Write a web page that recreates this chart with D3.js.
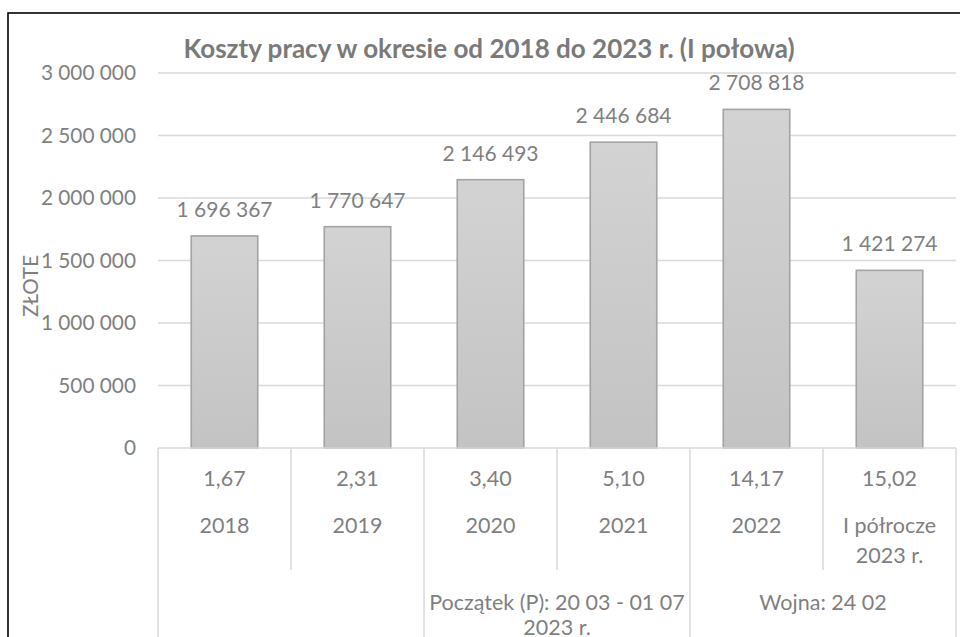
<!DOCTYPE html>
<html lang="pl">
<head>
    <meta charset="UTF-8">
    <script src="https://d3js.org/d3.v7.min.js"></script>
    <style>
        body { margin: 0; background: white; }
        text { font-family: Lato, "Open Sans", sans-serif; fill: #7f7f7f; }
        .title { font-weight: bold; fill: #7a7a7a; }
    </style>
</head>
<body>
    <div id="chart"></div>

    <script>
        // data
        const years = ["2018", "2019", "2020", "2021", "2022", "I półrocze\n2023 r."];
        const costs = [1696367, 1770647, 2146493, 2446684, 2708818, 1421274];
        const ratios = [1.67, 2.31, 3.40, 5.10, 14.17, 15.02];
        const groupLabels = ["", "Początek (P): 20 03 - 01 07\n2023 r.", "Wojna: 24 02"];
        const groupSize = 2;
        const yTicks = [0, 500000, 1000000, 1500000, 2000000, 2500000, 3000000];

        const width = 960;
        const height = 637;
        const plotLeft = 158, plotRight = 956, plotTop = 73, plotBottom = 448;

        const pl = d3.formatLocale({ decimal: ",", thousands: " ", grouping: [3], currency: ["", " zł"] });
        const fmtInt = pl.format(",d");
        const fmtDec = pl.format(".2f");

        const svg = d3.select("#chart").append("svg")
            .attr("width", width)
            .attr("height", height);

        const defs = svg.append("defs");
        const grad = defs.append("linearGradient")
            .attr("id", "barFill")
            .attr("x1", 0).attr("y1", 0).attr("x2", 0).attr("y2", 1);
        grad.append("stop").attr("offset", "0%").attr("stop-color", "#d3d3d3");
        grad.append("stop").attr("offset", "100%").attr("stop-color", "#c3c3c3");

        // outer frame (cut by the picture edge)
        svg.append("rect")
            .attr("x", 8).attr("y", 13)
            .attr("width", 1000).attr("height", 700)
            .attr("fill", "none")
            .attr("stroke", "#000")
            .attr("stroke-width", 1.6);

        const x = d3.scaleBand()
            .domain(years)
            .range([plotLeft, plotRight])
            .paddingInner(0.5)
            .paddingOuter(0.25);

        const cell = d3.scaleBand()
            .domain(years)
            .range([plotLeft, plotRight]);

        const y = d3.scaleLinear()
            .domain([0, 3000000])
            .range([plotBottom, plotTop]);

        // gridlines
        svg.append("g")
            .selectAll("line")
            .data(yTicks.filter(d => d > 0))
            .enter().append("line")
            .attr("x1", plotLeft).attr("x2", plotRight)
            .attr("y1", d => y(d)).attr("y2", d => y(d))
            .attr("stroke", "#d9d9d9")
            .attr("stroke-width", 1.5);

        // y tick labels
        svg.append("g")
            .selectAll("text")
            .data(yTicks)
            .enter().append("text")
            .attr("x", 136)
            .attr("y", d => y(d))
            .attr("dy", "0.35em")
            .attr("text-anchor", "end")
            .style("font-size", "20.8px")
            .text(d => fmtInt(d));

        // y axis title
        svg.append("text")
            .attr("transform", "translate(38,286) rotate(-90)")
            .attr("text-anchor", "middle")
            .style("font-size", "20.5px")
            .text("ZŁOTE");

        // bars
        svg.append("g")
            .selectAll("rect")
            .data(costs)
            .enter().append("rect")
            .attr("x", (d, i) => x(years[i]))
            .attr("y", d => y(d))
            .attr("width", x.bandwidth())
            .attr("height", d => y(0) - y(d))
            .attr("fill", "url(#barFill)")
            .attr("stroke", "#a3a3a3")
            .attr("stroke-width", 1.6);

        // value labels
        svg.append("g")
            .selectAll("text")
            .data(costs)
            .enter().append("text")
            .attr("x", (d, i) => x(years[i]) + x.bandwidth() / 2)
            .attr("y", d => y(d) - 19)
            .attr("text-anchor", "middle")
            .style("font-size", "21px")
            .text(d => fmtInt(d));

        // axis line
        svg.append("line")
            .attr("x1", plotLeft).attr("x2", plotRight)
            .attr("y1", plotBottom).attr("y2", plotBottom)
            .attr("stroke", "#d9d9d9")
            .attr("stroke-width", 1.5);

        // category table lines
        const edges = d3.range(years.length + 1).map(i => i === years.length ? plotRight : cell(years[i]));
        svg.append("g")
            .selectAll("line")
            .data(edges)
            .enter().append("line")
            .attr("x1", d => d).attr("x2", d => d)
            .attr("y1", plotBottom)
            .attr("y2", (d, i) => i % groupSize === 0 ? height : 570)
            .attr("stroke", "#d9d9d9")
            .attr("stroke-width", 1.5);

        // ratio row
        svg.append("g")
            .selectAll("text")
            .data(ratios)
            .enter().append("text")
            .attr("x", (d, i) => cell(years[i]) + cell.bandwidth() / 2)
            .attr("y", 478)
            .attr("dy", "0.35em")
            .attr("text-anchor", "middle")
            .style("font-size", "21.5px")
            .text(d => fmtDec(d));

        // year row
        svg.append("g")
            .selectAll("text")
            .data(years)
            .enter().append("text")
            .attr("x", d => cell(d) + cell.bandwidth() / 2)
            .attr("y", 525)
            .attr("text-anchor", "middle")
            .style("font-size", "21.5px")
            .each(function(d) {
                const t = d3.select(this);
                d.split("\n").forEach((line, k) => {
                    t.append("tspan")
                        .attr("x", cell(d) + cell.bandwidth() / 2)
                        .attr("dy", k === 0 ? "0.35em" : 30)
                        .text(line);
                });
            });

        // group row
        svg.append("g")
            .selectAll("text")
            .data(groupLabels)
            .enter().append("text")
            .attr("y", 602)
            .attr("text-anchor", "middle")
            .style("font-size", "21.5px")
            .each(function(d, i) {
                const cx = cell(years[i * groupSize]) + cell.bandwidth() * groupSize / 2;
                const t = d3.select(this);
                d.split("\n").forEach((line, k) => {
                    t.append("tspan")
                        .attr("x", cx)
                        .attr("dy", k === 0 ? "0.35em" : 25)
                        .text(line);
                });
            });

        // title
        svg.append("text")
            .attr("class", "title")
            .attr("x", 489)
            .attr("y", 58)
            .attr("text-anchor", "middle")
            .style("font-size", "26px")
            .text("Koszty pracy w okresie od 2018 do 2023 r. (I połowa)");
    </script>
</body>
</html>
